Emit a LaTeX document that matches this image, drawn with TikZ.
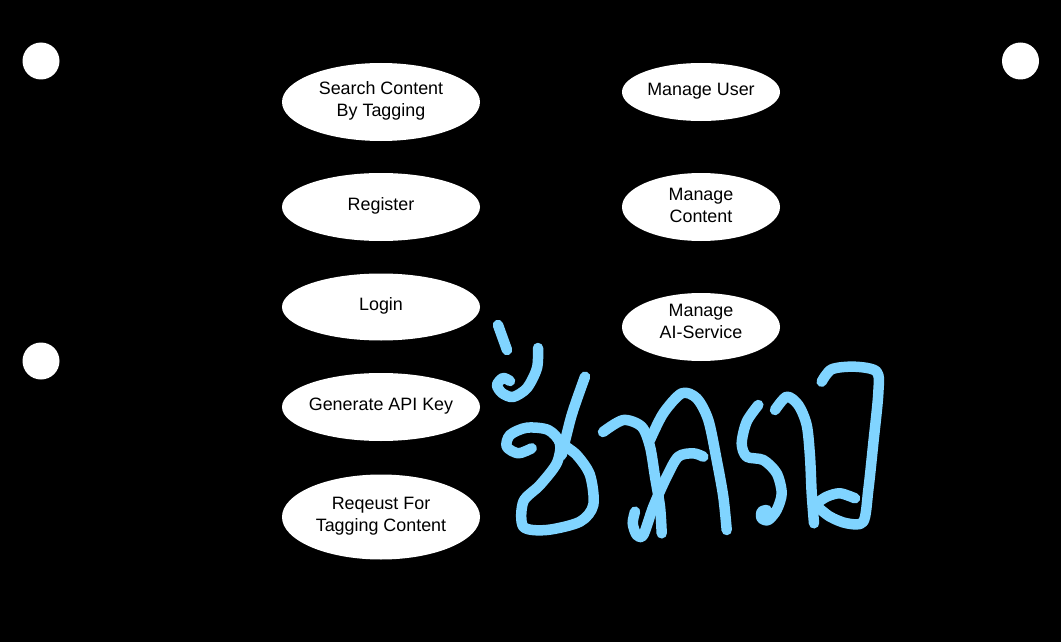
\documentclass[tikz,border=0pt]{standalone}
\usepackage{fontspec}
\setmainfont{Liberation Sans}
\usetikzlibrary{shapes.geometric}
\definecolor{scribble}{RGB}{128,212,255}
\tikzset{
  usecase/.style={ellipse, fill=white, draw=none, inner sep=0pt, align=center,
    font=\fontsize{17.9}{22}\selectfont, text=black},
  casetext/.style={inner sep=0pt, align=center, font=\fontsize{17.9}{22}\selectfont, text=black},
  actorhead/.style={circle, fill=white, draw=none, minimum size=37pt, inner sep=0pt},
  pen/.style={draw=scribble, line width=10.5pt, line cap=round, line join=round}
}
\begin{document}
\begin{tikzpicture}[x=1pt,y=-1pt]
\path[fill=black,use as bounding box] (0,0) rectangle (1061,642);
% actors
\node[actorhead] (a1) at (41,61) {};
\node[actorhead] (a2) at (41,361) {};
\node[actorhead] (a3) at (1020.5,61) {};
% use cases
\node[usecase, minimum width=198pt, minimum height=78pt] (uc1) at (381,102) {};
\node[casetext] (uc1t) at (381,101) {Search Content\\By Tagging};
\node[usecase, minimum width=198pt, minimum height=68pt] (uc2) at (381,207) {};
\node[casetext] (uc2t) at (381,206) {Register};
\node[usecase, minimum width=198pt, minimum height=67pt] (uc3) at (381,307) {};
\node[casetext] (uc3t) at (381,306) {Login};
\node[usecase, minimum width=198pt, minimum height=68pt] (uc4) at (381,407) {};
\node[casetext] (uc4t) at (381,406) {Generate API Key};
\node[usecase, minimum width=198pt, minimum height=85pt] (uc5) at (381,517) {};
\node[casetext] (uc5t) at (381,516) {Reqeust For\\Tagging Content};
\node[usecase, minimum width=158pt, minimum height=58pt] (uc6) at (701,92) {};
\node[casetext] (uc6t) at (701,91) {Manage User};
\node[usecase, minimum width=158pt, minimum height=68pt] (uc7) at (701,207) {};
\node[casetext] (uc7t) at (701,205) {Manage\\Content};
\node[usecase, minimum width=158pt, minimum height=68pt] (uc8) at (701,327) {};
\node[casetext] (uc8t) at (701,321) {Manage\\AI-Service};
% handwritten scribble
\draw[pen] (498,325) -- (507,350);
\draw[pen] plot[smooth] coordinates {(538,348) (537,368) (527,388) (513,397) (502,393) (497,385) (503,378) (510,381)};
\draw[pen] plot[smooth] coordinates {(531.7,448.3) (518.3,453.3) (506.7,446.7) (510,435) (526.7,427.7) (548.3,430) (560,443.3) (556.7,463.3) (540,485) (523.3,501.7) (523.3,526.7) (546.7,530) (580,521.7) (593.3,505) (590,475) (576.7,455) (563.3,445)};
\draw[pen] plot[smooth] coordinates {(585,376.7) (571.7,415) (561.7,455)};
\draw[pen] plot[smooth] coordinates {(603,432) (623.3,420) (641.7,426.7) (650,446.7) (655,476.7) (660,506.7) (661.7,533.3)};
\draw[pen] plot[smooth] coordinates {(650,440) (663.3,413.3) (681.7,393.3) (696.7,398.3) (708.3,420) (716.7,460) (723.3,496.7) (726.7,530)};
\draw[pen] plot[smooth] coordinates {(635,511.7) (632.7,523.3) (636.7,535) (643.3,535) (653.3,506.7) (666.7,476.7) (678.3,456.7) (693.3,453.3) (703.3,456.7)};
\draw[pen] plot[smooth] coordinates {(758.3,405) (746.7,421.7) (741.7,443.3) (746.7,456.7) (763.3,460) (776.7,473.3) (781.7,493.3) (776.7,510) (768.3,520) (761.7,518.3) (761.7,511.7) (766.7,510)};
\draw[pen] plot[smooth] coordinates {(775,410) (786.7,396.7) (798.3,405) (806.7,425) (810,456.7) (811.7,493.3) (814,523.3)};
\draw[pen] plot[smooth] coordinates {(814,505) (826.7,496.7) (840,493.3) (855,498.3)};
\draw[pen] plot[smooth] coordinates {(821.7,381.7) (831.7,369.3) (855,366.7) (876.7,371.7) (878.3,393.3) (873.3,443.3) (868.3,490) (863.3,521.7) (846.7,523.3) (830,516.7) (817.3,506.7)};
\end{tikzpicture}
\end{document}
